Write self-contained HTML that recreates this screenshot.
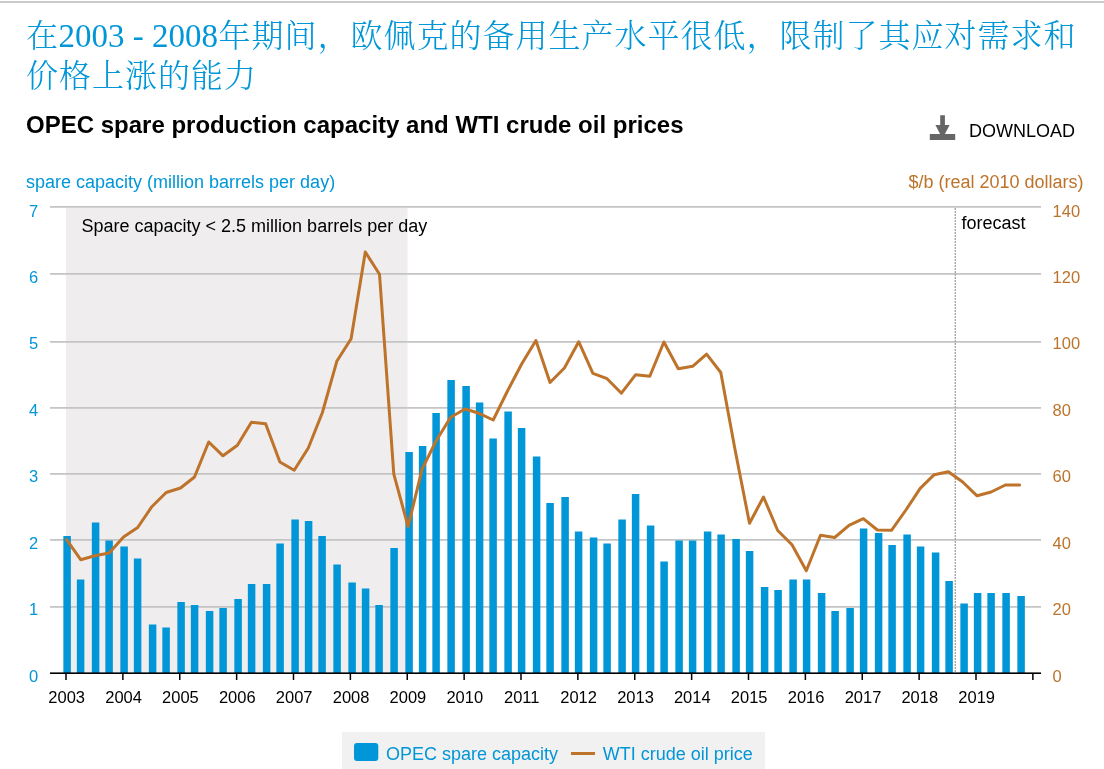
<!DOCTYPE html>
<html lang="zh-CN"><head><meta charset="utf-8"><title>OPEC spare production capacity and WTI crude oil prices</title>
<style>
html,body{margin:0;padding:0;background:#fff}
body{width:1104px;height:769px;position:relative;overflow:hidden}
#topline{position:absolute;left:0;top:1px;width:1104px;height:2px;background:#cacaca}
h1{position:absolute;left:25.5px;top:15.8px;margin:0;width:1070px;font-family:"Liberation Serif","Noto Serif CJK SC",serif;font-weight:300;font-size:33px;line-height:40px;color:#0096d7;white-space:nowrap}
h1 .c{font-size:32px;letter-spacing:1px;line-height:1;position:relative;left:.6px}
</style></head><body>
<div id="topline"></div>
<h1><span class="c">在</span>2003 - 2008<span class="c">年期间，欧佩克的备用生产水平很低，限制了其应对需求和</span><br><span class="c">价格上涨的能力</span></h1>
<svg width="1104" height="769" viewBox="0 0 1104 769" style="position:absolute;left:0;top:0">
<rect x="66" y="208" width="341.5" height="465" fill="#efedee"/>
<rect x="50" y="606" width="991" height="1.77" fill="#c5c5c5"/>
<rect x="50" y="539" width="991" height="1.77" fill="#c5c5c5"/>
<rect x="50" y="473" width="991" height="1.77" fill="#c5c5c5"/>
<rect x="50" y="407" width="991" height="1.77" fill="#c5c5c5"/>
<rect x="50" y="341" width="991" height="1.77" fill="#c5c5c5"/>
<rect x="50" y="273" width="991" height="1.77" fill="#c5c5c5"/>
<rect x="50" y="206" width="991" height="1.77" fill="#c5c5c5"/>
<line x1="955.3" y1="208" x2="955.3" y2="673" stroke="#a8a8a8" stroke-width="1.4" stroke-dasharray="1.9 1.1"/>
<g fill="#0096d7">
<rect x="63.35" y="536.00" width="7.5" height="137.00"/>
<rect x="76.85" y="579.50" width="7.5" height="93.50"/>
<rect x="91.85" y="522.50" width="7.5" height="150.50"/>
<rect x="105.35" y="540.50" width="7.5" height="132.50"/>
<rect x="120.35" y="546.50" width="7.5" height="126.50"/>
<rect x="133.85" y="558.50" width="7.5" height="114.50"/>
<rect x="148.85" y="624.50" width="7.5" height="48.50"/>
<rect x="162.35" y="627.50" width="7.5" height="45.50"/>
<rect x="177.35" y="602.00" width="7.5" height="71.00"/>
<rect x="190.85" y="605.00" width="7.5" height="68.00"/>
<rect x="205.85" y="611.00" width="7.5" height="62.00"/>
<rect x="219.35" y="608.00" width="7.5" height="65.00"/>
<rect x="234.35" y="599.00" width="7.5" height="74.00"/>
<rect x="247.85" y="584.00" width="7.5" height="89.00"/>
<rect x="262.85" y="584.00" width="7.5" height="89.00"/>
<rect x="276.35" y="543.50" width="7.5" height="129.50"/>
<rect x="291.35" y="519.50" width="7.5" height="153.50"/>
<rect x="304.85" y="521.00" width="7.5" height="152.00"/>
<rect x="318.35" y="536.00" width="7.5" height="137.00"/>
<rect x="333.35" y="564.50" width="7.5" height="108.50"/>
<rect x="348.35" y="582.50" width="7.5" height="90.50"/>
<rect x="361.85" y="588.50" width="7.5" height="84.50"/>
<rect x="375.35" y="605.00" width="7.5" height="68.00"/>
<rect x="390.35" y="548.00" width="7.5" height="125.00"/>
<rect x="405.35" y="452.00" width="7.5" height="221.00"/>
<rect x="418.85" y="446.00" width="7.5" height="227.00"/>
<rect x="432.35" y="413.00" width="7.5" height="260.00"/>
<rect x="447.35" y="380.00" width="7.5" height="293.00"/>
<rect x="462.35" y="386.00" width="7.5" height="287.00"/>
<rect x="475.85" y="402.50" width="7.5" height="270.50"/>
<rect x="489.35" y="438.50" width="7.5" height="234.50"/>
<rect x="504.35" y="411.50" width="7.5" height="261.50"/>
<rect x="517.85" y="428.00" width="7.5" height="245.00"/>
<rect x="532.85" y="456.50" width="7.5" height="216.50"/>
<rect x="546.35" y="503.00" width="7.5" height="170.00"/>
<rect x="561.35" y="497.00" width="7.5" height="176.00"/>
<rect x="574.85" y="531.50" width="7.5" height="141.50"/>
<rect x="589.85" y="537.50" width="7.5" height="135.50"/>
<rect x="603.35" y="543.50" width="7.5" height="129.50"/>
<rect x="618.35" y="519.50" width="7.5" height="153.50"/>
<rect x="631.85" y="494.00" width="7.5" height="179.00"/>
<rect x="646.85" y="525.50" width="7.5" height="147.50"/>
<rect x="660.35" y="561.50" width="7.5" height="111.50"/>
<rect x="675.35" y="540.50" width="7.5" height="132.50"/>
<rect x="688.85" y="540.50" width="7.5" height="132.50"/>
<rect x="703.85" y="531.50" width="7.5" height="141.50"/>
<rect x="717.35" y="534.50" width="7.5" height="138.50"/>
<rect x="732.35" y="539.00" width="7.5" height="134.00"/>
<rect x="745.85" y="551.00" width="7.5" height="122.00"/>
<rect x="760.85" y="587.00" width="7.5" height="86.00"/>
<rect x="774.35" y="590.00" width="7.5" height="83.00"/>
<rect x="789.35" y="579.50" width="7.5" height="93.50"/>
<rect x="802.85" y="579.50" width="7.5" height="93.50"/>
<rect x="817.85" y="593.00" width="7.5" height="80.00"/>
<rect x="831.35" y="611.00" width="7.5" height="62.00"/>
<rect x="846.35" y="608.00" width="7.5" height="65.00"/>
<rect x="859.85" y="528.50" width="7.5" height="144.50"/>
<rect x="874.85" y="533.00" width="7.5" height="140.00"/>
<rect x="888.35" y="545.00" width="7.5" height="128.00"/>
<rect x="903.35" y="534.50" width="7.5" height="138.50"/>
<rect x="916.85" y="546.50" width="7.5" height="126.50"/>
<rect x="931.85" y="552.50" width="7.5" height="120.50"/>
<rect x="945.35" y="581.00" width="7.5" height="92.00"/>
<rect x="960.35" y="603.50" width="7.5" height="69.50"/>
<rect x="973.85" y="593.00" width="7.5" height="80.00"/>
<rect x="987.35" y="593.00" width="7.5" height="80.00"/>
<rect x="1002.35" y="593.00" width="7.5" height="80.00"/>
<rect x="1017.35" y="596.00" width="7.5" height="77.00"/>
</g>
<rect x="50" y="672.4" width="991" height="1.6" fill="#000"/>
<rect x="65.25" y="674" width="1.5" height="6" fill="#000"/>
<rect x="122.12" y="674" width="1.5" height="6" fill="#000"/>
<rect x="179.00" y="674" width="1.5" height="6" fill="#000"/>
<rect x="235.88" y="674" width="1.5" height="6" fill="#000"/>
<rect x="292.75" y="674" width="1.5" height="6" fill="#000"/>
<rect x="349.62" y="674" width="1.5" height="6" fill="#000"/>
<rect x="406.50" y="674" width="1.5" height="6" fill="#000"/>
<rect x="463.38" y="674" width="1.5" height="6" fill="#000"/>
<rect x="520.25" y="674" width="1.5" height="6" fill="#000"/>
<rect x="577.12" y="674" width="1.5" height="6" fill="#000"/>
<rect x="634.00" y="674" width="1.5" height="6" fill="#000"/>
<rect x="690.88" y="674" width="1.5" height="6" fill="#000"/>
<rect x="747.75" y="674" width="1.5" height="6" fill="#000"/>
<rect x="804.62" y="674" width="1.5" height="6" fill="#000"/>
<rect x="861.50" y="674" width="1.5" height="6" fill="#000"/>
<rect x="918.38" y="674" width="1.5" height="6" fill="#000"/>
<rect x="975.25" y="674" width="1.5" height="6" fill="#000"/>
<rect x="1032.12" y="674" width="1.5" height="6" fill="#000"/>
<polyline points="66.6,539.7 80.7,559.7 94.8,555.8 109.2,553.0 123.5,537.0 137.7,527.5 151.8,506.7 166.2,492.5 180.5,488.0 194.5,477.0 208.7,442.0 223.0,455.8 237.4,445.3 251.4,422.2 265.6,423.7 279.9,462.0 294.2,470.3 308.3,448.0 322.4,412.5 336.8,361.3 351.1,338.7 365.3,252.0 379.5,274.2 393.8,474.2 408.1,526.5 422.1,469.2 436.3,440.5 450.7,417.2 465.0,409.0 479.0,413.3 493.2,420.0 507.5,391.0 521.8,363.7 535.9,340.5 550.0,382.5 564.4,368.0 578.7,341.7 592.9,373.3 607.1,378.7 621.4,393.2 635.7,374.7 649.8,376.3 663.9,342.0 678.3,368.7 692.6,366.3 706.6,354.2 720.8,372.5 735.1,450.0 749.5,523.2 763.5,497.0 777.7,530.5 792.0,544.7 806.3,570.8 820.5,535.3 834.7,537.5 849.0,525.3 863.3,518.7 877.4,530.0 891.5,530.3 905.9,510.0 920.2,488.3 934.2,474.7 948.4,471.7 962.7,482.0 977.1,495.8 991.1,492.0 1005.3,485.0 1019.6,485.0" fill="none" stroke="#bd732a" stroke-width="3" stroke-linejoin="round" stroke-linecap="round"/>
<g font-family="'Liberation Sans', sans-serif">
<g font-size="16.5" fill="#0096d7" text-anchor="end">
<text x="38.1" y="682.0">0</text>
<text x="38.1" y="614.6">1</text>
<text x="38.1" y="549.1">2</text>
<text x="38.1" y="481.8">3</text>
<text x="38.1" y="416.1">4</text>
<text x="38.1" y="349.0">5</text>
<text x="38.1" y="283.4">6</text>
<text x="38.1" y="217.0">7</text>
</g>
<g font-size="16.5" fill="#bd732a">
<text x="1052.6" y="682.0">0</text>
<text x="1052.6" y="614.6">20</text>
<text x="1052.6" y="549.1">40</text>
<text x="1052.6" y="481.8">60</text>
<text x="1052.6" y="416.1">80</text>
<text x="1052.6" y="349.0">100</text>
<text x="1052.6" y="283.4">120</text>
<text x="1052.6" y="217.0">140</text>
</g>
<g font-size="16.5" fill="#000" text-anchor="middle">
<text x="66.7" y="703">2003</text>
<text x="123.6" y="703">2004</text>
<text x="180.4" y="703">2005</text>
<text x="237.3" y="703">2006</text>
<text x="294.2" y="703">2007</text>
<text x="351.1" y="703">2008</text>
<text x="407.9" y="703">2009</text>
<text x="464.8" y="703">2010</text>
<text x="521.7" y="703">2011</text>
<text x="578.6" y="703">2012</text>
<text x="635.5" y="703">2013</text>
<text x="692.3" y="703">2014</text>
<text x="749.2" y="703">2015</text>
<text x="806.1" y="703">2016</text>
<text x="863.0" y="703">2017</text>
<text x="919.8" y="703">2018</text>
<text x="976.7" y="703">2019</text>
</g>
<text x="26" y="187.5" font-size="18" fill="#0096d7">spare capacity (million barrels per day)</text>
<text x="1083.5" y="187.5" font-size="18" fill="#bd732a" text-anchor="end">$/b (real 2010 dollars)</text>
<text x="81.5" y="232" font-size="18" fill="#000">Spare capacity &lt; 2.5 million barrels per day</text>
<text x="961.5" y="228.5" font-size="18" fill="#000">forecast</text>
<rect x="342" y="732" width="423" height="40" fill="#f1f1f1"/>
<rect x="354" y="743" width="24.3" height="18" rx="3" fill="#0096d7"/>
<text x="386" y="759.5" font-size="18" fill="#0096d7">OPEC spare capacity</text>
<line x1="571" y1="753.5" x2="595" y2="753.5" stroke="#bd732a" stroke-width="3"/>
<text x="602.7" y="759.5" font-size="18" fill="#0096d7">WTI crude oil price</text>
<path d="M940.2 115.2h4.7v9.8h4.7l-4.7 9.1h10.3v5.9h-25.4v-5.9h10.3l-4.7-9.1h4.8z" fill="#666"/>
<text x="969" y="137" font-size="18" fill="#000">DOWNLOAD</text>
<text x="26" y="132.75" font-size="24" font-weight="bold" fill="#000">OPEC spare production capacity and WTI crude oil prices</text>
</g>
</svg>
</body></html>
